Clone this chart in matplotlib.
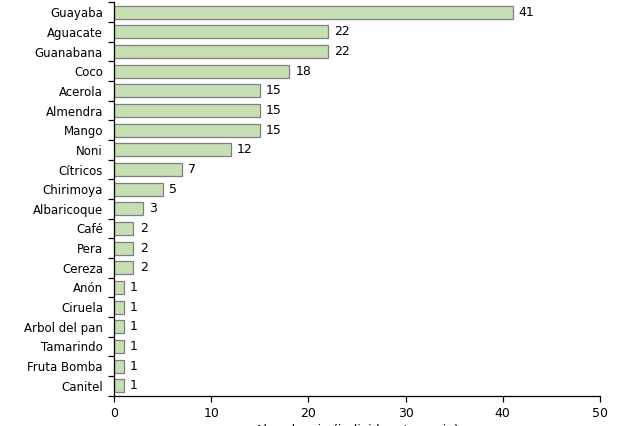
import matplotlib.pyplot as plt

especies = ["Guayaba", "Aguacate", "Guanabana", "Coco", "Acerola", "Almendra",
            "Mango", "Noni", "Cítricos", "Chirimoya", "Albaricoque", "Café",
            "Pera", "Cereza", "Anón", "Ciruela", "Arbol del pan", "Tamarindo",
            "Fruta Bomba", "Canitel"]
abundancia = [41, 22, 22, 18, 15, 15, 15, 12, 7, 5, 3, 2, 2, 2, 1, 1, 1, 1, 1, 1]

plt.rcParams["font.family"] = "DejaVu Sans"
plt.rcParams["font.size"] = 9

fig = plt.figure(figsize=(6.19, 4.26), dpi=100)
ax = fig.add_axes([114 / 619, 1 - 395.5 / 426, 486 / 619, 393 / 426])

pos = list(range(len(especies)))
ax.barh(pos, abundancia, height=0.66, color="#c6e0b4", edgecolor="#7f7f7f", linewidth=0.9)
for p, v in zip(pos, abundancia):
    ax.text(v + 0.65, p, str(v), va="center", ha="left", fontsize=9, color="black")

ax.set_ylim(len(especies) - 0.5, -0.5)
ax.set_yticks(pos)
ax.set_yticklabels(especies, fontsize=8.5)
ax.tick_params(axis="y", length=0, pad=8)
# ticks between categories
ax.set_yticks([p + 0.5 for p in range(-1, len(especies))], minor=True)
ax.tick_params(axis="y", which="minor", length=4, width=0.9)

ax.set_xlim(0, 50)
ax.set_xticks(range(0, 51, 10))
ax.tick_params(axis="x", length=4, width=0.9, labelsize=9, pad=4)
ax.set_xlabel("Abundancia (individuos/especie)", fontsize=9, labelpad=3)

for s in ["top", "right"]:
    ax.spines[s].set_visible(False)
for s in ["left", "bottom"]:
    ax.spines[s].set_linewidth(0.9)
    ax.spines[s].set_color("black")

fig.savefig("out.png", dpi=100)
